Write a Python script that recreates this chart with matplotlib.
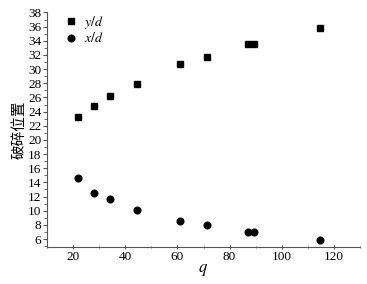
import matplotlib.pyplot as plt
from matplotlib.ticker import MultipleLocator

plt.rcParams['font.family'] = ['Liberation Serif', 'Noto Sans CJK SC']
plt.rcParams['mathtext.fontset'] = 'stix'

# --- DATA ---
q = [21.8, 28.2, 34.1, 44.5, 60.8, 71.4, 87.2, 89.3, 114.7]
y_d = [23.2, 24.8, 26.2, 27.9, 30.7, 31.7, 33.5, 33.5, 35.75]
x_d = [14.6, 12.5, 11.6, 10.1, 8.6, 8.0, 7.0, 7.0, 5.8]

fig = plt.figure(figsize=(3.67, 2.84), dpi=100)
ax = fig.add_axes([0.128, 0.131, 0.853, 0.825])

ax.plot(q, y_d, 's', color='black', markersize=4.3, label='$y/d$')
ax.plot(q, x_d, 'o', color='black', markersize=4.8, label='$x/d$')

ax.set_xlim(10, 130)
ax.set_ylim(4.9, 38)
ax.xaxis.set_minor_locator(MultipleLocator(10))
ax.yaxis.set_minor_locator(MultipleLocator(1))
ax.set_yticks(range(6, 39, 2))
ax.set_xticks(range(20, 121, 20))

ax.spines['top'].set_visible(False)
ax.spines['right'].set_visible(False)
ax.spines['left'].set_color('#555555')
ax.spines['bottom'].set_color('#555555')
ax.tick_params(axis='both', which='major', labelsize=9.5, length=3, color='#555555', pad=1.5)
ax.tick_params(axis='both', which='minor', length=2, color='#555555')
ax.tick_params(axis='x', which='both', direction='inout')
ax.tick_params(axis='y', which='major', pad=1)

ax.set_xlabel('$q$', fontsize=12, labelpad=-1)
ax.set_ylabel('破碎位置', fontsize=10.5, family=['Noto Sans CJK SC'], labelpad=1)

ax.legend(loc='upper left', frameon=False, fontsize=10, handletextpad=0.3,
          labelspacing=0.05, borderaxespad=0.2, handlelength=1.2,
          bbox_to_anchor=(0.025, 1.03))

plt.savefig('out.png', dpi=100)
